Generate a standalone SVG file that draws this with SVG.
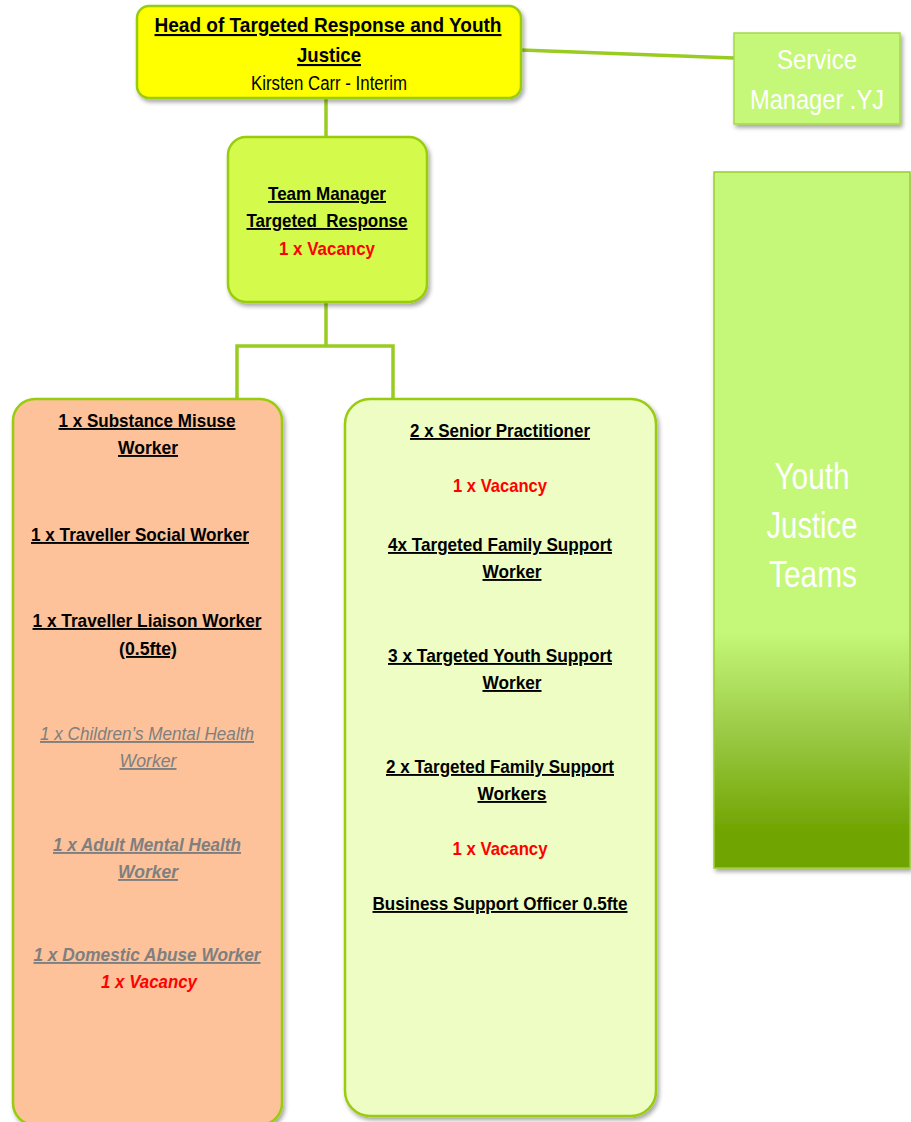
<svg xmlns="http://www.w3.org/2000/svg" width="911" height="1122" viewBox="0 0 911 1122">
<style>
.t{font-family:"Liberation Sans Narrow","Liberation Sans",Arial,sans-serif;text-anchor:middle}
.b{font-weight:bold;font-size:19px;fill:#000}
.u{text-decoration:underline}
.red{fill:#FF0000}
.gi{font-style:italic;fill:#7F7F7F}
.w{fill:#FFFFFF;font-weight:normal}
.box{stroke:#99CC11;stroke-width:2.5}
.conn{stroke:#99CC22;stroke-width:3.5;fill:none}
</style>
<defs>
<filter id="sh" x="-10%" y="-10%" width="130%" height="130%">
<feDropShadow dx="2" dy="3" stdDeviation="2" flood-color="#000" flood-opacity="0.35"/>
</filter>
<linearGradient id="yjg" x1="0" y1="0" x2="0" y2="1">
<stop offset="0" stop-color="#C5F878"/>
<stop offset="0.66" stop-color="#C5F878"/>
<stop offset="0.8" stop-color="#9CCB48"/>
<stop offset="0.95" stop-color="#70A400"/>
<stop offset="1" stop-color="#70A400"/>
</linearGradient>
</defs>

<g id="connectors">
<line class="conn" x1="521" y1="50" x2="734" y2="58"/>
<line class="conn" x1="326" y1="98" x2="326" y2="137"/>
<polyline class="conn" points="326,302 326,346"/>
<polyline class="conn" points="237,399 237,346 393,346 393,399"/>
</g>

<g id="head">
<rect class="box" x="137" y="6" width="384" height="92" rx="12" fill="#FFFF00" filter="url(#sh)"/>
<text class="t b u" x="328" y="32" style="font-size:21px" textLength="347" lengthAdjust="spacingAndGlyphs">Head of Targeted Response and Youth</text>
<text class="t b u" x="329" y="62" style="font-size:21px" textLength="64" lengthAdjust="spacingAndGlyphs">Justice</text>
<text class="t" x="329" y="90" style="font-size:20px" textLength="156" lengthAdjust="spacingAndGlyphs">Kirsten Carr - Interim</text>
</g>

<g id="service-manager">
<rect x="734" y="33" width="166" height="91" fill="#C5F878" stroke="#A6D84A" stroke-width="1.5" filter="url(#sh)"/>
<text class="t w" x="817" y="69" style="font-size:27px" textLength="80" lengthAdjust="spacingAndGlyphs">Service</text>
<text class="t w" x="817" y="109" style="font-size:27px" textLength="134" lengthAdjust="spacingAndGlyphs">Manager .YJ</text>
</g>

<g id="team-manager">
<rect class="box" x="228" y="137" width="199" height="165" rx="18" fill="#D4FB4C" filter="url(#sh)"/>
<text class="t b u" x="327" y="200" textLength="118" lengthAdjust="spacingAndGlyphs">Team Manager</text>
<text class="t b u" x="327" y="227" style="white-space:pre" textLength="161" lengthAdjust="spacingAndGlyphs">Targeted  Response</text>
<text class="t b red" x="327" y="255" textLength="96" lengthAdjust="spacingAndGlyphs">1 x Vacancy</text>
</g>

<g id="youth-justice">
<rect x="714" y="172" width="196" height="696" fill="url(#yjg)" stroke="#9ACD32" stroke-width="1.5" filter="url(#sh)"/>
<text class="t w" x="812" y="489" style="font-size:37px" textLength="75" lengthAdjust="spacingAndGlyphs">Youth</text>
<text class="t w" x="812" y="538" style="font-size:37px" textLength="91" lengthAdjust="spacingAndGlyphs">Justice</text>
<text class="t w" x="813" y="587" style="font-size:37px" textLength="88" lengthAdjust="spacingAndGlyphs">Teams</text>
</g>

<g id="left-team">
<rect class="box" x="13" y="399" width="269" height="726" rx="22" fill="#FDC29A" filter="url(#sh)"/>
<text class="t b u" x="147" y="427" textLength="177" lengthAdjust="spacingAndGlyphs">1 x Substance Misuse</text>
<text class="t b u" x="148" y="454" textLength="60" lengthAdjust="spacingAndGlyphs">Worker</text>
<text class="t b u" x="140" y="541" textLength="218" lengthAdjust="spacingAndGlyphs">1 x Traveller Social Worker</text>
<text class="t b u" x="147" y="627" textLength="229" lengthAdjust="spacingAndGlyphs">1 x Traveller Liaison Worker</text>
<text class="t b u" x="148" y="655" textLength="58" lengthAdjust="spacingAndGlyphs">(0.5fte)</text>
<text class="t gi u" x="147" y="740" style="font-size:19px" textLength="214" lengthAdjust="spacingAndGlyphs">1 x Children’s Mental Health</text>
<text class="t gi u" x="148" y="767" style="font-size:19px" textLength="57" lengthAdjust="spacingAndGlyphs">Worker</text>
<text class="t b gi u" x="147" y="851" textLength="188" lengthAdjust="spacingAndGlyphs">1 x Adult Mental Health</text>
<text class="t b gi u" x="148" y="878" textLength="60" lengthAdjust="spacingAndGlyphs">Worker</text>
<text class="t b gi u" x="147" y="961" textLength="227" lengthAdjust="spacingAndGlyphs">1 x Domestic Abuse Worker</text>
<text class="t b gi red" x="149" y="988" style="fill:#FF0000" textLength="96" lengthAdjust="spacingAndGlyphs">1 x Vacancy</text>
</g>

<g id="right-team">
<rect class="box" x="345" y="399" width="311" height="717" rx="25" fill="#EEFDC3" filter="url(#sh)"/>
<text class="t b u" x="500" y="437" textLength="180" lengthAdjust="spacingAndGlyphs">2 x Senior Practitioner</text>
<text class="t b red" x="500" y="492" textLength="94" lengthAdjust="spacingAndGlyphs">1 x Vacancy</text>
<text class="t b u" x="500" y="551" textLength="224" lengthAdjust="spacingAndGlyphs">4x Targeted Family Support</text>
<text class="t b u" x="512" y="578" textLength="59" lengthAdjust="spacingAndGlyphs">Worker</text>
<text class="t b u" x="500" y="662" textLength="224" lengthAdjust="spacingAndGlyphs">3 x Targeted Youth Support</text>
<text class="t b u" x="512" y="689" textLength="59" lengthAdjust="spacingAndGlyphs">Worker</text>
<text class="t b u" x="500" y="773" textLength="228" lengthAdjust="spacingAndGlyphs">2 x Targeted Family Support</text>
<text class="t b u" x="512" y="800" textLength="69" lengthAdjust="spacingAndGlyphs">Workers</text>
<text class="t b red" x="500" y="855" textLength="95" lengthAdjust="spacingAndGlyphs">1 x Vacancy</text>
<text class="t b u" x="500" y="910" textLength="255" lengthAdjust="spacingAndGlyphs">Business Support Officer 0.5fte</text>
</g>
</svg>
